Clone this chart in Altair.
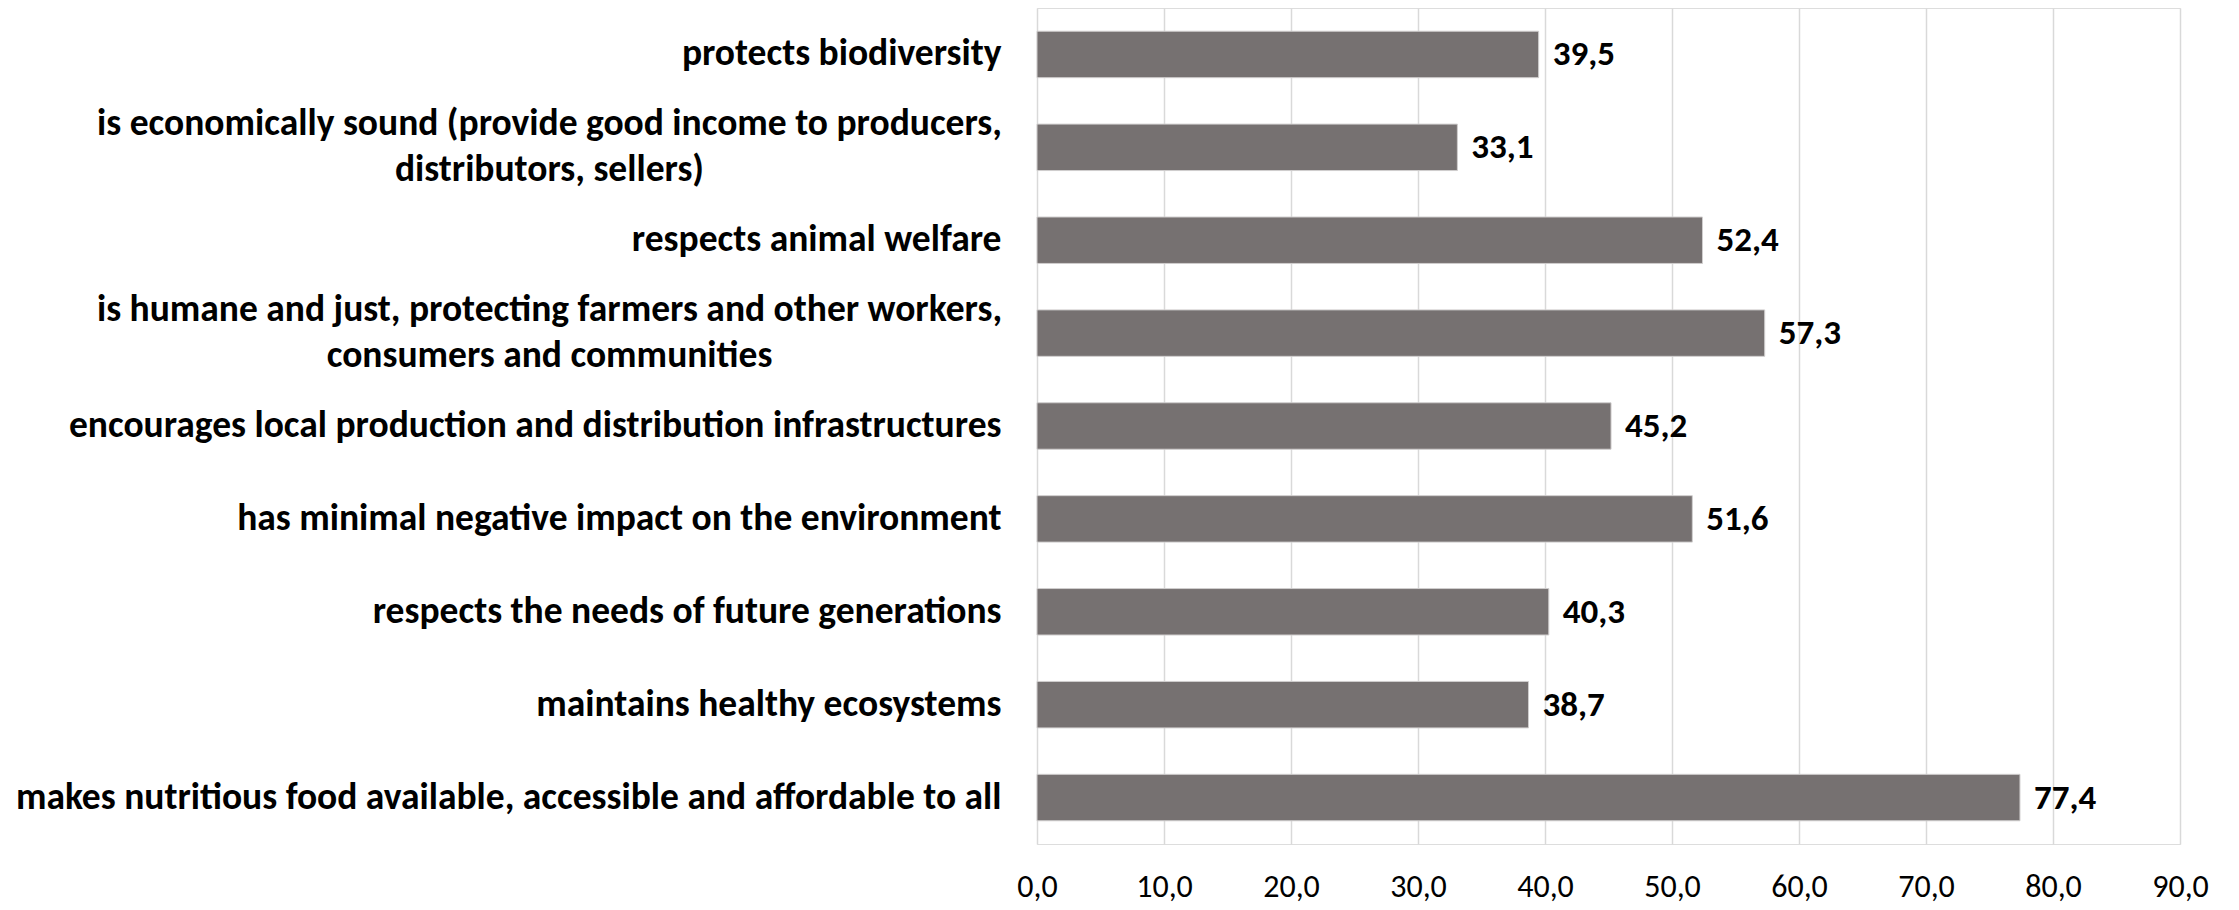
import altair as alt
import pandas as pd

categories = [
    "protects biodiversity",
    "is economically sound (provide good income to producers,\ndistributors, sellers)",
    "respects animal welfare",
    "is humane and just, protecting farmers and other workers,\nconsumers and communities",
    "encourages local production and distribution infrastructures",
    "has minimal negative impact on the environment",
    "respects the needs of future generations",
    "maintains healthy ecosystems",
    "makes nutritious food available, accessible and affordable to all",
]
values = [39.5, 33.1, 52.4, 57.3, 45.2, 51.6, 40.3, 38.7, 77.4]
x_ticks = [0, 10, 20, 30, 40, 50, 60, 70, 80, 90]

df = pd.DataFrame({"category": categories, "value": values})

FONT = "Carlito, Lato, sans-serif"
BAR_COLOR = "#767171"
MULTI = "indexof(datum.value, '\\n') >= 0"

y_enc = alt.Y(
    "category:N",
    sort=categories,
    title=None,
    scale=alt.Scale(paddingInner=0.5, paddingOuter=0.25),
    axis=alt.Axis(
        labelExpr="split(datum.label, '\\n')",
        labelFont=FONT,
        labelFontSize=37.5,
        labelFontWeight="bold",
        labelColor="#000000",
        labelLineHeight=46,
        labelLimit=1200,
        labelAlign={"condition": {"test": MULTI, "value": "center"}, "value": "right"},
        labelPadding={"condition": {"test": MULTI, "value": 488}, "value": 36},
        labelOffset={"condition": {"test": MULTI, "value": -23}, "value": 0},
        ticks=False,
        domain=False,
        grid=False,
    ),
)

x_enc = alt.X(
    "value:Q",
    title=None,
    scale=alt.Scale(domain=[0, 90], nice=False),
    axis=alt.Axis(
        values=x_ticks,
        labelExpr="replace(format(datum.value, '.1f'), '.', ',')",
        labelFont=FONT,
        labelFontSize=32,
        labelColor="#000000",
        labelPadding=27,
        labelFlush=False,
        ticks=False,
        domain=False,
        grid=True,
        gridColor="#d9d9d9",
        gridWidth=1.5,
    ),
)

bars = alt.Chart(df).mark_bar(color=BAR_COLOR, stroke="#d0cece", strokeWidth=1).encode(
    y=y_enc, x=x_enc
)

labels = (
    alt.Chart(df)
    .transform_calculate(lbl="replace(format(datum.value, '.1f'), '.', ',')")
    .mark_text(
        align="left",
        baseline="middle",
        dx=14,
        font=FONT,
        fontSize=35,
        fontWeight="bold",
        color="#000000",
    )
    .encode(y=alt.Y("category:N", sort=categories), x=alt.X("value:Q"), text="lbl:N")
)

chart = (
    alt.layer(bars, labels)
    .properties(
        width=1143,
        height=836,
        autosize=alt.AutoSizeParams(type="none"),
        padding={"left": 1029, "top": 0, "right": 40, "bottom": 70},
    )
    .configure_view(stroke=None)
    .configure(background="#ffffff")
)

chart.save("out.html", embed_options={"renderer": "svg", "actions": False})
